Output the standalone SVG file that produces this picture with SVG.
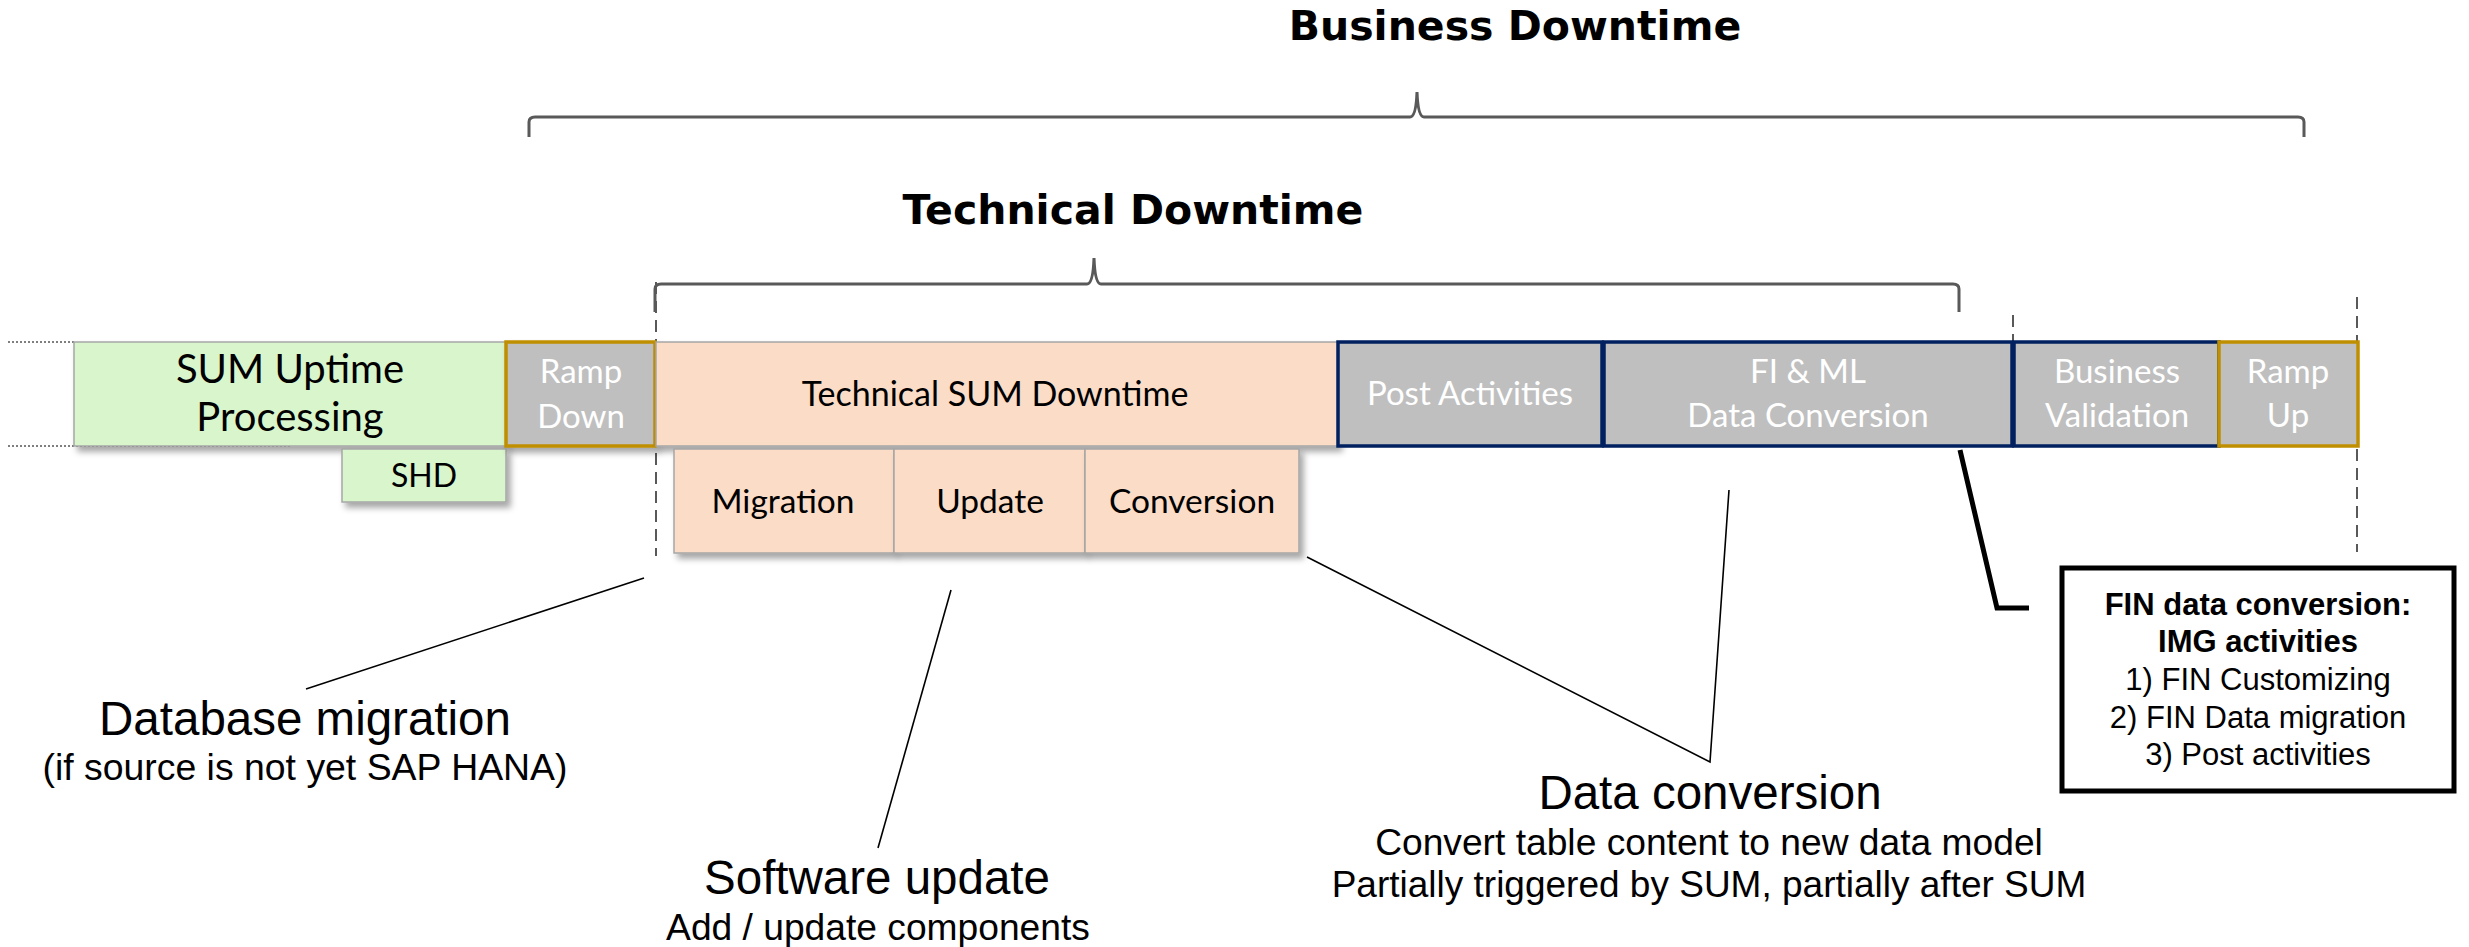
<svg xmlns="http://www.w3.org/2000/svg" width="2469" height="947" viewBox="0 0 2469 947">
<style>
.cal{font-family:Lato,"Open Sans","Liberation Sans",sans-serif;text-anchor:middle;fill:#000}
.wh{fill:#fff}
.ar{font-family:"Liberation Sans",Arial,sans-serif;text-anchor:middle;fill:#000}
.hd{font-family:"DejaVu Sans","Liberation Sans",sans-serif;font-weight:bold;text-anchor:middle;fill:#000;font-size:41px}
.green{fill:#D9F5CC;stroke:#A6A6A6;stroke-width:1.5}
.peach{fill:#FBDCC7;stroke:#A6A6A6;stroke-width:1.5}
.grayN{fill:#BFBFBF;stroke:#002060;stroke-width:3.5}
.grayG{fill:#BFBFBF;stroke:#BF8F00;stroke-width:3.5}
.brace{fill:none;stroke:#595959;stroke-width:3}
.thin{fill:none;stroke:#000;stroke-width:1.6}
.thick{fill:none;stroke:#000;stroke-width:5}
.dash{fill:none;stroke:#595959;stroke-width:2;stroke-dasharray:12 7}
.dot{fill:none;stroke:#7F7F7F;stroke-width:2;stroke-dasharray:2 2}
</style>
<defs>
<filter id="sh" x="-10%" y="-10%" width="130%" height="140%">
<feDropShadow dx="4" dy="5" stdDeviation="3" flood-color="#000" flood-opacity="0.35"/>
</filter>
</defs>
<rect width="2469" height="947" fill="#fff"/>
<g id="headings">
<text class="hd" x="1515" y="40">Business Downtime</text>
<text class="hd" x="1133" y="224">Technical Downtime</text>
</g>
<g id="connectors">
<path class="brace" d="M529,137 L529,122 Q529,117 535,117 L1410,117 Q1416,117 1417,92 Q1418,117 1424,117 L2298,117 Q2304,117 2304,122 L2304,137"/>
<path class="brace" d="M655,312 L655,289 Q655,284 661,284 L1087,284 Q1093,284 1094,258 Q1095,284 1101,284 L1953,284 Q1959,284 1959,289 L1959,312"/>
<path class="dot" d="M8,342 L74,342"/>
<path class="dot" d="M8,446 L290,446"/>
<path class="dash" d="M656,282 L656,556"/>
<path class="dash" d="M2013,315 L2013,446" stroke-dasharray="8 4 2 4"/>
<path class="dash" d="M2357,297 L2357,552"/>
<path class="thin" d="M644,578 L306,689"/>
<path class="thin" d="M951,590 L878,848"/>
<path class="thin" d="M1307,557 L1710,762 L1729,490"/>
<path class="thick" d="M1960,450 L1997,608 L2029,608"/>
</g>
<g id="sum-uptime">
<rect class="green" x="74" y="342" width="432" height="104" filter="url(#sh)"/>
<text class="cal" x="290" y="383" font-size="40">SUM Uptime</text>
<text class="cal" x="290" y="431" font-size="40">Processing</text>
</g>
<g id="shd">
<rect class="green" x="342" y="449" width="164" height="53" filter="url(#sh)"/>
<text class="cal" x="424" y="487" font-size="32">SHD</text>
</g>
<g id="ramp-down">
<rect class="grayG" x="506" y="342" width="149" height="104" filter="url(#sh)"/>
<text class="cal wh" x="581" y="383" font-size="33">Ramp</text>
<text class="cal wh" x="581" y="428" font-size="33">Down</text>
</g>
<g id="technical-sum-downtime">
<rect class="peach" x="656" y="342" width="682" height="104" filter="url(#sh)"/>
<text class="cal" x="995" y="406" font-size="34">Technical SUM Downtime</text>
</g>
<g id="migration">
<rect class="peach" x="674" y="449" width="220" height="104" filter="url(#sh)"/>
<text class="cal" x="783" y="513" font-size="33.5">Migration</text>
</g>
<g id="update">
<rect class="peach" x="894" y="449" width="191" height="104" filter="url(#sh)"/>
<text class="cal" x="990" y="513" font-size="33.5">Update</text>
</g>
<g id="conversion">
<rect class="peach" x="1085" y="449" width="214" height="104" filter="url(#sh)"/>
<text class="cal" x="1192" y="513" font-size="33.5">Conversion</text>
</g>
<g id="post-activities">
<rect class="grayN" x="1338" y="342" width="264" height="104"/>
<text class="cal wh" x="1470" y="405" font-size="33">Post Activities</text>
</g>
<g id="fi-ml">
<rect class="grayN" x="1604" y="342" width="408" height="104"/>
<text class="cal wh" x="1808" y="383" font-size="33">FI &amp; ML</text>
<text class="cal wh" x="1808" y="427" font-size="33">Data Conversion</text>
</g>
<g id="business-validation">
<rect class="grayN" x="2014" y="342" width="205" height="104"/>
<text class="cal wh" x="2117" y="383" font-size="33">Business</text>
<text class="cal wh" x="2117" y="427" font-size="33">Validation</text>
</g>
<g id="ramp-up">
<rect class="grayG" x="2219" y="342" width="139" height="104"/>
<text class="cal wh" x="2288" y="383" font-size="33">Ramp</text>
<text class="cal wh" x="2288" y="427" font-size="33">Up</text>
</g>
<g id="fin-box">
<rect x="2062" y="568" width="392" height="223" fill="#fff" stroke="#000" stroke-width="5"/>
<text class="ar" x="2258" y="615" font-size="31" font-weight="bold">FIN data conversion:</text>
<text class="ar" x="2258" y="652" font-size="31" font-weight="bold">IMG activities</text>
<text class="ar" x="2258" y="690" font-size="31">1) FIN Customizing</text>
<text class="ar" x="2258" y="728" font-size="31">2) FIN Data migration</text>
<text class="ar" x="2258" y="765" font-size="31">3) Post activities</text>
</g>
<g id="label-db">
<text class="ar" x="305" y="735" font-size="47.5">Database migration</text>
<text class="ar" x="305" y="780" font-size="37.4">(if source is not yet SAP HANA)</text>
</g>
<g id="label-sw">
<text class="ar" x="877" y="894" font-size="47.5">Software update</text>
<text class="ar" x="878" y="940" font-size="37.2">Add / update components</text>
</g>
<g id="label-dc">
<text class="ar" x="1710" y="809" font-size="47.5">Data conversion</text>
<text class="ar" x="1709" y="855" font-size="37.2">Convert table content to new data model</text>
<text class="ar" x="1709" y="897" font-size="37">Partially triggered by SUM, partially after SUM</text>
</g>
</svg>
